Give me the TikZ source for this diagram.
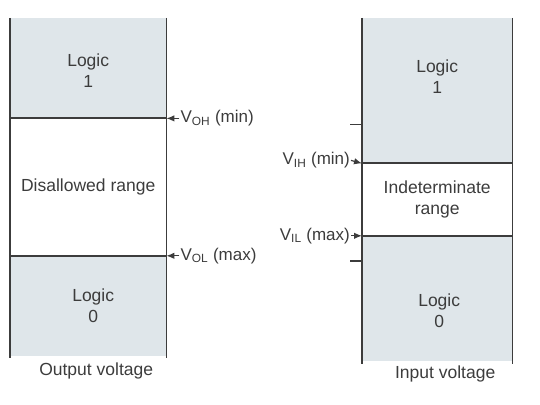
\documentclass[tikz,border=0pt]{standalone}
\usepackage{fontspec}
\setmainfont{Liberation Sans}
\usetikzlibrary{arrows.meta, positioning}
\definecolor{logicfill}{HTML}{DFE6EA}
\definecolor{inkgray}{HTML}{3C3C3C}
\tikzset{
  band/.style={fill=logicfill,inner sep=0pt,minimum width=156pt},
  gap/.style={band,fill=none},
  bandtext/.style={align=center,text=inkgray,font=\fontsize{17.5}{21}\selectfont},
  rail/.style={draw=inkgray,line width=1.4pt},
  level/.style={draw=inkgray,line width=1.9pt},
  vlabel/.style={inner sep=1pt,text=inkgray,font=\fontsize{17}{20}\selectfont},
  pointer/.style={-{Latex[length=8pt,width=6.5pt]},line width=1.2pt,draw=inkgray},
  caption/.style={text=inkgray,font=\fontsize{17.5}{20}\selectfont},
}

\begin{document}
\begin{tikzpicture}[x=1pt,y=-1pt]
	    \useasboundingbox (0,0) rectangle (540,404);
	    % output side
	    \node[band,minimum height=100pt,anchor=north west] (out1) at (10,18) {};
	    \node[gap,minimum height=137pt,below=0pt of out1] (outX) {};
	    \node[band,minimum height=100pt,below=0pt of outX] (out0) {};
	    \node[bandtext] (out1t) at ([yshift=-2pt]out1.center) {Logic\\1};
	    \node[bandtext] (outXt) at (outX.center) {Disallowed range};
	    \node[bandtext] (out0t) at ([xshift=5pt]out0.center) {Logic\\0};
	    \draw[rail] (out1.north west) -- ([yshift=-2pt]out0.south west);
	    \draw[rail] (out1.north east) -- ([yshift=-2pt]out0.south east);
	    \draw[level] (out1.south west) -- (out1.south east);
	    \draw[level] (out0.north west) -- (out0.north east);
	    \node[vlabel,anchor=west] (voh) at ([xshift=13pt]out1.south east) {V\textsubscript{OH} (min)};
	    \node[vlabel,anchor=west] (vol) at ([xshift=13pt]out0.north east) {V\textsubscript{OL} (max)};
	    \draw[pointer] (voh) -- (out1.south east);
	    \draw[pointer] (vol) -- (out0.north east);
	    \node[caption,below=3pt of out0,xshift=8pt] (outcap) {Output voltage};
	    % input side
	    \node[band,minimum width=150pt,minimum height=145pt,anchor=north west] (in1) at (362,18) {};
	    \node[gap,minimum width=150pt,minimum height=72pt,below=0pt of in1] (inX) {};
	    \node[band,minimum width=150pt,minimum height=125pt,below=0pt of inX] (in0) {};
	    \node[bandtext] (in1t) at ([yshift=14pt]in1.center) {Logic\\1};
	    \node[bandtext] (inXt) at (inX.center) {Indeterminate\\range};
	    \node[bandtext] (in0t) at ([xshift=2pt,yshift=-12pt]in0.center) {Logic\\0};
	    \draw[rail] (in1.north west) -- ([yshift=-3pt]in0.south west);
	    \draw[rail] (in1.north east) -- ([yshift=-3pt]in0.south east);
	    \draw[level] (in1.south west) -- (in1.south east);
	    \draw[level] (in0.north west) -- (in0.north east);
	    \draw[rail] ([yshift=39pt]in1.south west) -- ++(-12,0);
	    \draw[rail] ([yshift=-25pt]in0.north west) -- ++(-12,0);
	    \node[vlabel,anchor=east] (vih) at ([xshift=-11pt,yshift=3pt]in1.south west) {V\textsubscript{IH} (min)};
	    \node[vlabel,anchor=east] (vil) at ([xshift=-11pt]in0.north west) {V\textsubscript{IL} (max)};
	    \draw[pointer] (vih.east) -- (in1.south west);
	    \draw[pointer] (vil) -- (in0.north west);
	    \node[caption,below=1pt of in0,xshift=8pt] (incap) {Input voltage};
	\end{tikzpicture}
\end{document}
